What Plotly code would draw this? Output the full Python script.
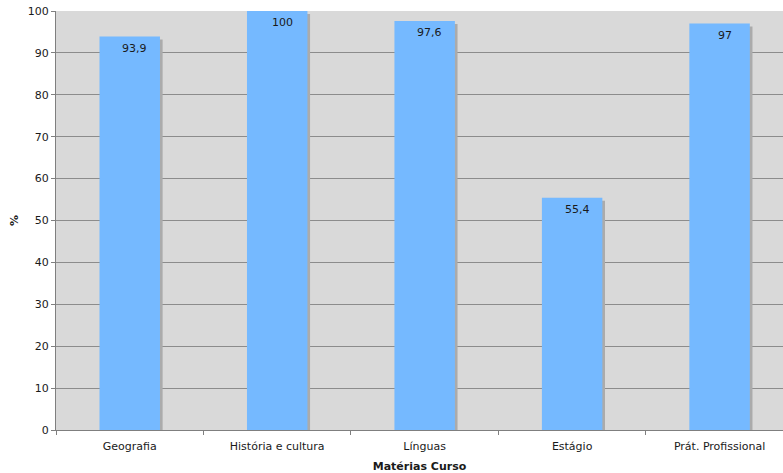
import plotly.graph_objects as go

categorias = ["Geografia", "História e cultura", "Línguas", "Estágio", "Prát. Profissional"]
percentagens = [93.9, 100, 97.6, 55.4, 97]
rotulos = ["93,9", "100", "97,6", "55,4", "97"]

FONTE = "DejaVu Sans, Verdana, sans-serif"
LARGURA = 0.41

fig = go.Figure()

# faixa de sombra à direita das barras
fig.add_trace(go.Bar(
    x=categorias,
    y=[v - 0.7 for v in percentagens],
    width=LARGURA,
    offset=-LARGURA / 2 + 0.018,
    marker=dict(color="#ababab", line=dict(width=0)),
    hoverinfo="skip",
    showlegend=False,
))

fig.add_trace(go.Bar(
    x=categorias,
    y=percentagens,
    width=LARGURA,
    offset=-LARGURA / 2,
    marker=dict(color="#75b9ff", line=dict(width=0)),
    showlegend=False,
))

for cat, val, txt in zip(categorias, percentagens, rotulos):
    fig.add_annotation(
        x=cat, y=val, text=txt, showarrow=False,
        yanchor="top", xanchor="center", xshift=5, yshift=-3,
        font=dict(family=FONTE, size=11, color="#1a1a1a"),
    )

fig.update_layout(
    width=783, height=473,
    margin=dict(l=56, r=0, t=11, b=43),
    paper_bgcolor="white",
    plot_bgcolor="#d9d9d9",
    barmode="overlay",
    font=dict(family=FONTE, size=11, color="#1a1a1a"),
)

# a área do gráfico continua para lá da margem direita
fig.update_xaxes(
    type="category",
    range=[-0.5, 4.43],
    tickson="boundaries",
    ticks="outside", ticklen=4, tickcolor="#7f7f7f",
    ticklabelstandoff=6,
    showline=True, linecolor="#7f7f7f", linewidth=1,
    showgrid=False,
    tickfont=dict(family=FONTE, size=11),
    title=dict(text="<b>Matérias Curso</b>", font=dict(family=FONTE, size=11), standoff=10),
)

fig.update_yaxes(
    range=[0, 100], dtick=10,
    ticks="outside", ticklen=4, tickcolor="#7f7f7f",
    showline=True, linecolor="#7f7f7f", linewidth=1,
    showgrid=True, gridcolor="#8c8c8c", gridwidth=1,
    zeroline=False,
    tickfont=dict(family=FONTE, size=11),
    title=dict(text="<b>%</b>", font=dict(family=FONTE, size=11), standoff=6),
)

fig.write_html("out.html")
